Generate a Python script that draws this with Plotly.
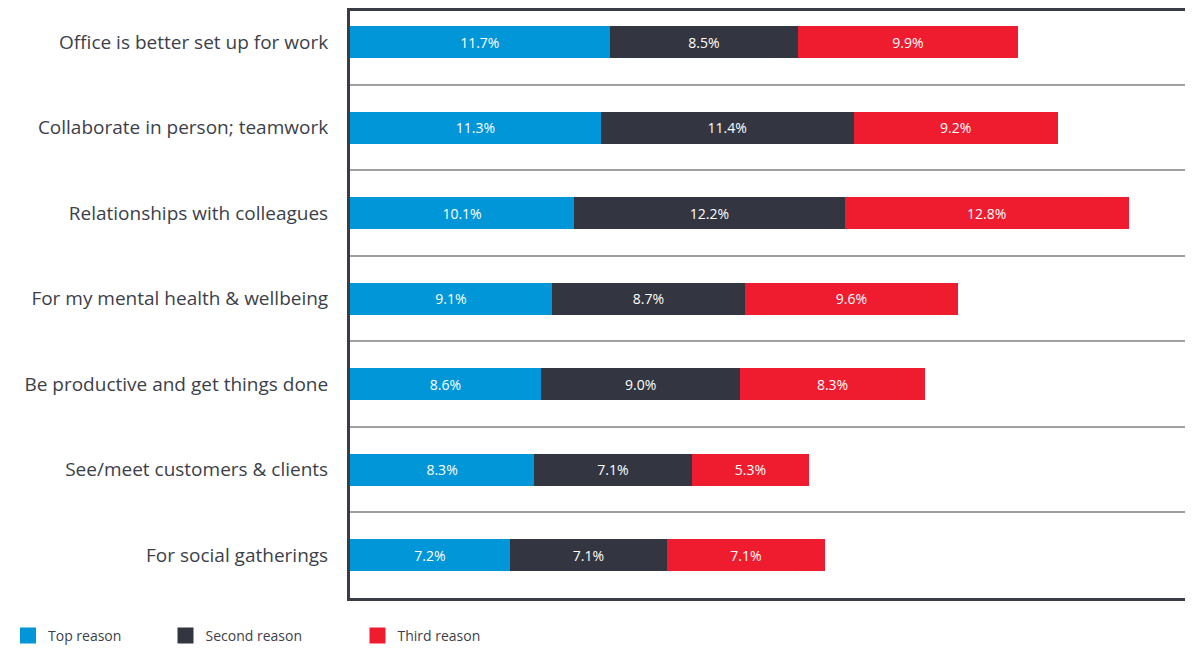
import plotly.graph_objects as go

categories = [
    "Office is better set up for work",
    "Collaborate in person; teamwork",
    "Relationships with colleagues",
    "For my mental health & wellbeing",
    "Be productive and get things done",
    "See/meet customers & clients",
    "For social gatherings",
]
top_reason = [11.7, 11.3, 10.1, 9.1, 8.6, 8.3, 7.2]
second_reason = [8.5, 11.4, 12.2, 8.7, 9.0, 7.1, 7.1]
third_reason = [9.9, 9.2, 12.8, 9.6, 8.3, 5.3, 7.1]

series = [
    ("Top reason", top_reason, "#0096D8", "legend"),
    ("Second reason", second_reason, "#333640", "legend2"),
    ("Third reason", third_reason, "#EE1C2E", "legend3"),
]

fig = go.Figure()
for name, vals, color, lg in series:
    fig.add_trace(go.Bar(
        y=categories, x=vals, name=name, orientation="h",
        marker=dict(color=color, line=dict(width=0)),
        width=0.374,
        texttemplate="%{x:.1f}%", textposition="inside",
        insidetextanchor="middle",
        textfont=dict(color="white", size=14, family="Open Sans"),
        showlegend=False, hoverinfo="skip",
    ))
for name, vals, color, lg in series:
    fig.add_trace(go.Scatter(
        x=[None], y=[None], mode="markers", name=name, legend=lg,
        marker=dict(symbol="square", size=16, color=color),
    ))

W, H = 1185, 640
legend_common = dict(orientation="h", xref="container", yref="container",
                     xanchor="left", yanchor="middle", y=0.019,
                     font=dict(size=14, color="#3c3f4a", family="Open Sans"),
                     itemwidth=30, bgcolor="rgba(0,0,0,0)")

fig.update_layout(
    width=W, height=H,
    barmode="stack",
    plot_bgcolor="white", paper_bgcolor="white",
    margin=dict(l=342, r=0, t=3, b=50),
    font=dict(family="Open Sans", color="#3c3f4a"),
    xaxis=dict(range=[0, 38], showticklabels=False, showgrid=False,
               zeroline=False, showline=True, mirror=True,
               linecolor="#3a3d45", linewidth=2.5, ticks=""),
    yaxis=dict(type="category", categoryorder="array",
               categoryarray=categories, range=[6.5, -0.365],
               tickson="boundaries", showgrid=True, gridcolor="#a0a0a0",
               gridwidth=2, ticks="", showline=True, linecolor="#3a3d45",
               linewidth=3, tickfont=dict(size=19, color="#3c3f4a"),
               ticklabelstandoff=15),
    legend=dict(x=0.0, **legend_common),
    legend2=dict(x=157.5 / W, **legend_common),
    legend3=dict(x=349.5 / W, **legend_common),
)

fig.write_html("out.html")
